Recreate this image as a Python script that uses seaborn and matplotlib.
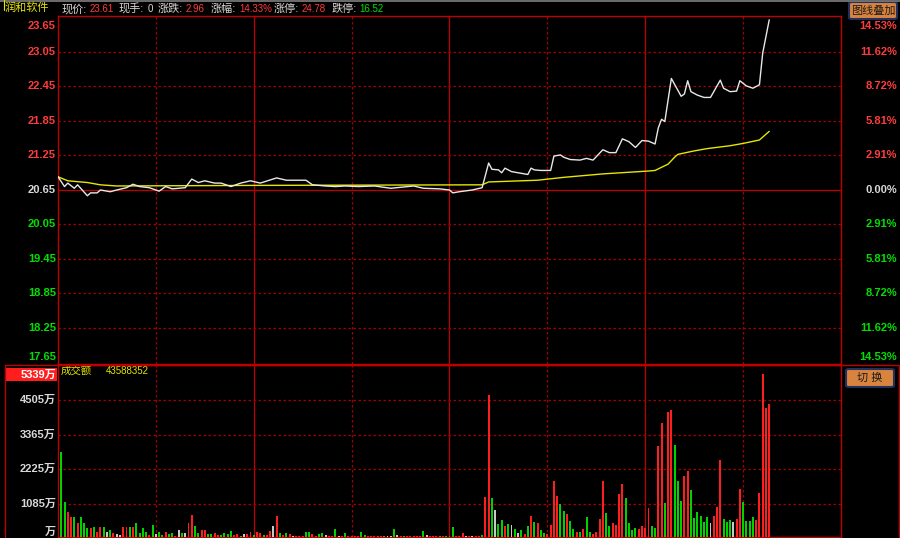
import matplotlib
matplotlib.use('Agg')
import matplotlib.pyplot as plt
import matplotlib.transforms as mtransforms
from matplotlib.patches import FancyBboxPatch, Rectangle
from matplotlib.lines import Line2D
import seaborn as sns
import pandas as pd

# ---- data ----
stock_name = '润和软件'
pre_close = 20.65
quote_labels = ['现价:', '现手:', '涨跌:', '涨幅:', '涨停:', '跌停:']
quote_values = ['23.61', '0', '2.96', '14.33%', '24.78', '16.52']
price_ticks = [17.65, 18.25, 18.85, 19.45, 20.05, 20.65, 21.25, 21.85, 22.45, 23.05, 23.65]
vol_ticks = [1085, 2225, 3365, 4505]   # 万
vol_max = 5339
last_amount = '43588352'

# minute index (0 = 9:30) and price of the white line
price_t = [0, 2, 3, 5, 6, 9, 10, 12, 13, 16, 18, 21, 23, 25, 28, 31, 33, 35, 39, 41,
           43, 45, 48, 50, 53, 56, 59, 62, 67, 70, 76, 78, 82, 85, 88, 92, 97, 102, 109, 112,
           117, 120, 121, 123, 127, 130, 132, 133, 135, 136, 137, 139, 142, 144, 145, 146, 148, 151, 152, 154,
           155, 157, 160, 162, 164, 167, 169, 171, 173, 175, 177, 179, 181, 183, 184, 185, 186, 188, 191, 192,
           193, 194, 196, 198, 200, 203, 204, 206, 208, 209, 211, 213, 215, 216, 218]
price = [20.88, 20.71, 20.77, 20.68, 20.74, 20.55, 20.60, 20.60, 20.65, 20.62, 20.65, 20.69, 20.75, 20.71, 20.69, 20.63, 20.71, 20.67, 20.69, 20.84,
         20.78, 20.81, 20.77, 20.77, 20.71, 20.77, 20.81, 20.77, 20.86, 20.82, 20.82, 20.74, 20.72, 20.71, 20.72, 20.71, 20.72, 20.68, 20.72, 20.68,
         20.67, 20.65, 20.60, 20.62, 20.65, 20.69, 21.12, 21.01, 21.00, 20.95, 21.03, 20.97, 20.94, 20.92, 21.03, 21.00, 20.99, 20.99, 21.24, 21.26,
         21.22, 21.18, 21.17, 21.20, 21.17, 21.35, 21.30, 21.30, 21.54, 21.49, 21.39, 21.51, 21.50, 21.45, 21.73, 21.88, 21.84, 22.59, 22.28, 22.32,
         22.55, 22.36, 22.30, 22.26, 22.26, 22.56, 22.42, 22.36, 22.37, 22.55, 22.46, 22.42, 22.48, 23.03, 23.61]

# yellow average price line
avg_t = [0, 3, 9, 13, 18, 60, 130, 132, 147, 155, 167, 181, 183, 187, 189, 190, 195, 199, 206, 210, 215, 218]
avg = [20.88, 20.81, 20.78, 20.74, 20.72, 20.73, 20.74, 20.79, 20.82, 20.87, 20.93, 20.98, 20.99, 21.10, 21.22, 21.27,
       21.33, 21.37, 21.42, 21.46, 21.52, 21.67]

# per-minute turnover (万), minutes 1..218, and bar colour (r up, g down, w flat)
vol = [2782, 1160, 811, 647, 668, 450, 647, 450, 285, 285,
       340, 175, 340, 340, 175, 230, 120, 90, 70, 340,
       320, 320, 340, 450, 140, 285, 175, 70, 395, 90,
       175, 70, 175, 100, 140, 40, 230, 120, 140, 460,
       722, 350, 120, 230, 230, 100, 100, 140, 70, 70,
       120, 100, 190, 70, 100, 40, 100, 90, 150, 70,
       150, 120, 70, 70, 190, 350, 690, 140, 70, 140,
       100, 20, 20, 40, 40, 175, 150, 100, 20, 100,
       130, 75, 20, 40, 262, 20, 20, 130, 40, 20,
       20, 20, 150, 75, 20, 20, 40, 20, 20, 20,
       40, 40, 262, 75, 20, 20, 20, 40, 40, 20,
       20, 210, 75, 40, 20, 20, 20, 20, 30, 30,
       340, 30, 20, 142, 20, 20, 30, 20, 20, 65,
       1325, 4665, 1270, 887, 427, 558, 361, 427, 394, 263,
       142, 230, 99, 372, 701, 482, 449, 230, 120, 99,
       394, 1850, 1347, 1073, 854, 756, 537, 252, 175, 175,
       263, 668, 175, 99, 175, 580, 1840, 800, 361, 471,
       394, 1412, 1741, 1270, 449, 230, 307, 252, 361, 300,
       964, 361, 285, 2990, 3755, 1106, 4117, 4172, 3022, 1850,
       1183, 2015, 2179, 1544, 635, 832, 690, 482, 646, 449,
       701, 997, 2530, 591, 482, 558, 482, 580, 1577, 1160,
       537, 515, 646, 558, 1435, 5339, 4248, 4359]
vol_dir = ('ggrrgrgggr' 'grrgwgrwwr' 'rgrggggrgw' 'ggrggrwgwr' 'rggrrggrrg'
           'gggrrgwrrg' 'rrgrrwrgrg' 'rwrrrggrrg' 'gwrrgwrgrr' 'rrggrrrrrg'
           'wwgwrgrrrr' 'rgwrrrgrgg' 'grrrwrwrrg' 'rrgwggrgwg' 'wgrgrgrggr'
           'rrrggrggrg' 'rggrrrrggr' 'rrrggggrrr' 'rggrrgrrgg' 'grrggggggw'
           'rrrgggwrrg' 'gggrrrrr')

# ---- styling ----
sns.set_theme(style='dark', rc={'axes.facecolor': 'black', 'figure.facecolor': 'black'})
plt.rcParams['font.family'] = ['Liberation Sans', 'Noto Sans CJK SC', 'DejaVu Sans']

RED = '#ff3c3c'
GRN = '#00e000'
GREY = '#d8d8d8'
EDGE = '#c00000'
GRID = '#a00000'
W, H = 900, 538


def fx(px):
    return px / W


def fy(py):
    return 1 - py / H


fig = plt.figure(figsize=(9, 5.38), dpi=100, facecolor='black')
ax1 = fig.add_axes([fx(58), fy(364), fx(841) - fx(58), fy(16) - fy(364)])
ax2 = fig.add_axes([fx(58), fy(537), fx(841) - fx(58), fy(365) - fy(537)])

px_per_unit = 34.5 / 0.6
vol_px = 1140 / 34.7

for ax in (ax1, ax2):
    ax.set_facecolor('black')
    for s in ax.spines.values():
        s.set_color(EDGE)
        s.set_linewidth(1.0)
    for t in range(30, 240, 30):
        if t % 60 == 0:
            ax.axvline(t, color=EDGE, lw=0.9, zorder=1)
        else:
            ax.axvline(t, color=GRID, lw=0.9, ls=(0, (2, 2)), zorder=1)

for p in price_ticks[1:-1]:
    if abs(p - pre_close) < 1e-6:
        ax1.axhline(p, color=EDGE, lw=0.9, zorder=1)
    else:
        ax1.axhline(p, color=GRID, lw=0.9, ls=(0, (2, 2)), zorder=1)
for v in vol_ticks:
    ax2.axhline(v, color=GRID, lw=0.9, ls=(0, (2, 2)), zorder=1)

# price and average lines
sns.lineplot(x=avg_t, y=avg, ax=ax1, color='#e6e600', lw=1.0, zorder=3)
sns.lineplot(x=price_t, y=price, ax=ax1, color='#e8e8e8', lw=1.0, zorder=4)

# turnover bars
df = pd.DataFrame({'t': list(range(1, len(vol) + 1)), 'v': vol, 'c': list(vol_dir)})
sns.barplot(data=df, x='t', y='v', hue='c', ax=ax2, native_scale=True, dodge=False,
            palette={'r': '#ff1e1e', 'g': '#00d200', 'w': '#c8c8c8'},
            width=0.6, saturation=1, legend=False, errorbar=None, linewidth=0, zorder=3)

for ax in (ax1, ax2):
    ax.set_xlim(0, 240)
    ax.set_xticks([])
    ax.set_yticks([])
    ax.set_xlabel('')
    ax.set_ylabel('')
    ax.grid(False)
ax1.set_ylim(pre_close - 174 / px_per_unit, pre_close + 174 / px_per_unit)
ax2.set_ylim(0, 172 * vol_px)

# price axis labels (left) and percent labels (right)
tr1 = mtransforms.blended_transform_factory(ax1.transAxes, ax1.transData)
lx = (56 - 58) / 783
rx = (897 - 58) / 783
for i, p in enumerate(price_ticks):
    col = GREY if abs(p - pre_close) < 1e-6 else (RED if p > pre_close else GRN)
    va = 'top' if i == len(price_ticks) - 1 else ('bottom' if i == 0 else 'center')
    off = -3 / px_per_unit if va == 'top' else (1 / px_per_unit if va == 'bottom' else 0)
    ax1.text(lx, p + off, f'{p:.2f}', transform=tr1, ha='right', va=va,
             color=col, fontsize=8, fontweight='bold', clip_on=False)
    pct = abs(p - pre_close) / pre_close * 100
    ax1.text(rx, p + off, f'{pct:.2f}%', transform=tr1, ha='right', va=va,
             color=col, fontsize=8, fontweight='bold', clip_on=False)

# volume axis labels
tr2 = mtransforms.blended_transform_factory(ax2.transAxes, ax2.transData)
for v in vol_ticks:
    ax2.text(lx, v, f'{v}万', transform=tr2, ha='right', va='center',
             color=GREY, fontsize=8, fontweight='bold', clip_on=False)
ax2.text(lx, 0, '万', transform=tr2, ha='right', va='bottom', color=GREY,
         fontsize=8, fontweight='bold', clip_on=False)
ax2.add_patch(Rectangle(((5 - 58) / 783, vol_max - 6.5 * vol_px), 52 / 783, 13 * vol_px,
                        transform=tr2, facecolor='#ff1e1e', edgecolor='none',
                        clip_on=False, zorder=5))
ax2.text(lx, vol_max, f'{vol_max}万', transform=tr2, ha='right', va='center',
         color='white', fontsize=8, fontweight='bold', clip_on=False, zorder=6)
ax2.text(0.003, 0.965, '成交额', transform=ax2.transAxes, ha='left', va='center',
         color='#e6e600', fontsize=7.5)
ax2.text(48 / 783, 0.965, last_amount, transform=ax2.transAxes, ha='left', va='center',
         color='#e6e600', fontsize=7)

# frame lines of the lower panel and the top bar
fig.add_artist(Line2D([0, 1], [fy(0.5), fy(0.5)], color='#808080', lw=1.2))
fig.add_artist(Line2D([fx(5), fx(899)], [fy(364.5), fy(364.5)], color=EDGE, lw=1.0))
fig.add_artist(Line2D([fx(5), fx(5)], [fy(364.5), 0], color=EDGE, lw=1.0))
fig.add_artist(Line2D([fx(899), fx(899)], [fy(364.5), 0], color=EDGE, lw=1.0))

# header: stock name and quote
fig.text(fx(5), fy(8), stock_name, color='#e6e600', fontsize=8, ha='left', va='center')
fig.add_artist(Line2D([fx(3.5), fx(3.5)], [fy(0), fy(10)], color='#e6e600', lw=0.8))
label_x = [62, 119, 158, 211, 274, 332]
value_x = [90, 148, 186, 239, 302, 359]
for i, (lab, val) in enumerate(zip(quote_labels, quote_values)):
    fig.text(fx(label_x[i]), fy(9), lab, color=GREY, fontsize=8, ha='left', va='center')
    col = GREY if val == '0' else (GRN if lab == '跌停:' else RED)
    fig.text(fx(value_x[i]), fy(9), val, color=col, fontsize=7, ha='left', va='center')

# buttons
for (x0, y0, x1, y1, txt) in [(849, 2, 897, 19, '图线叠加'), (846, 369, 894, 387, '切 换')]:
    fig.add_artist(FancyBboxPatch((fx(x0), fy(y1)), fx(x1) - fx(x0), fy(y0) - fy(y1),
                                  boxstyle='round,pad=0,rounding_size=0.003',
                                  facecolor='#d9843e', edgecolor='#22305e', lw=1.5,
                                  transform=fig.transFigure))
    fig.text(fx((x0 + x1) / 2), fy((y0 + y1) / 2), txt, color='#1a1a1a', fontsize=8,
             ha='center', va='center')

fig.savefig('out.png', dpi=100, facecolor='black')
